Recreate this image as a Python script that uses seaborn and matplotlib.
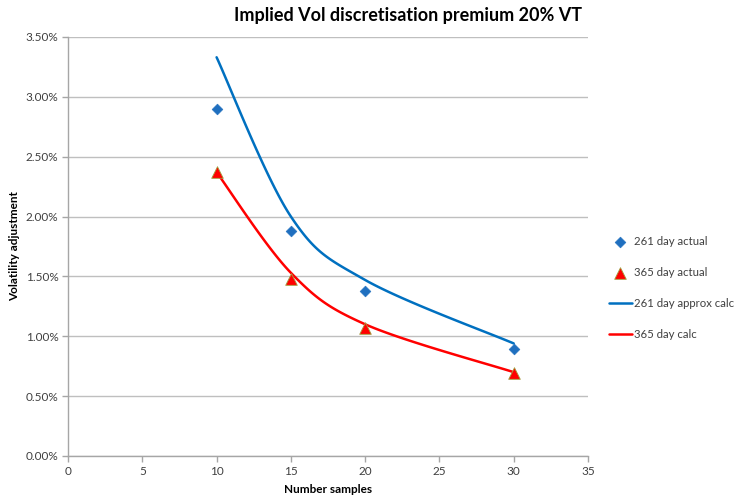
import numpy as np
import pandas as pd
import matplotlib
matplotlib.use("Agg")
import matplotlib.pyplot as plt
import seaborn as sns
from matplotlib.ticker import FuncFormatter, MultipleLocator

# ---- data ----
samples = [10, 15, 20, 30]
actual_261 = [0.0290, 0.0188, 0.0138, 0.0089]
actual_365 = [0.0237, 0.0148, 0.0107, 0.0069]
calc_261 = [0.0333, 0.0200, 0.0147, 0.0094]
calc_365 = [0.0237, 0.0153, 0.0110, 0.0070]
x_ticks = [0, 5, 10, 15, 20, 25, 30, 35]
title = "Implied Vol discretisation premium 20% VT"
labels = ["261 day actual", "365 day actual", "261 day approx calc", "365 day calc"]

sns.set_theme(style="white")
plt.rcParams['font.family'] = ['Lato', 'DejaVu Sans']


def excel_smooth(xs, ys, n=40):
    """Excel-style smoothed line (Catmull-Rom Bezier) for rendering."""
    xs = np.asarray(xs, float); ys = np.asarray(ys, float)
    P = np.column_stack([xs, ys])
    out = []
    for i in range(len(P) - 1):
        p0 = P[i - 1] if i > 0 else P[i]
        p1 = P[i]; p2 = P[i + 1]
        p3 = P[i + 2] if i + 2 < len(P) else P[i + 1]
        c1 = p1 + (p2 - p0) / 6.0
        c2 = p2 - (p3 - p1) / 6.0
        t = np.linspace(0, 1, n)[:, None]
        seg = ((1 - t) ** 3) * p1 + 3 * ((1 - t) ** 2) * t * c1 + 3 * (1 - t) * t ** 2 * c2 + t ** 3 * p2
        out.append(seg if i == 0 else seg[1:])
    return np.vstack(out)

fig = plt.figure(figsize=(7.46, 4.99), dpi=100)
ax = fig.add_axes([0.0912, 0.0862, 0.697, 0.8398])

blue_m = "#1F6FBF"
blue_l = "#0070C0"
red = "#FF0000"

s261 = excel_smooth(samples, calc_261)
s365 = excel_smooth(samples, calc_365)
d1 = pd.DataFrame({"x": s261[:, 0], "y": s261[:, 1]})
d2 = pd.DataFrame({"x": s365[:, 0], "y": s365[:, 1]})
sns.lineplot(data=d1, x="x", y="y", sort=False, color=blue_l, lw=1.8, ax=ax, label=labels[2], zorder=2)
sns.lineplot(data=d2, x="x", y="y", sort=False, color=red, lw=1.8, ax=ax, label=labels[3], zorder=2)
sns.scatterplot(x=samples, y=actual_261, marker="D", s=30, color=blue_m, edgecolor=blue_m, ax=ax, label=labels[0], zorder=3)
sns.scatterplot(x=samples, y=actual_365, marker="^", s=70, color=red, edgecolor="#A0A040", linewidth=0.6, ax=ax, label=labels[1], zorder=3)

ax.set_xlim(0, 35)
ax.set_ylim(0, 0.035)
ax.set_xticks(x_ticks)
ax.yaxis.set_major_locator(MultipleLocator(0.005))
ax.yaxis.set_major_formatter(FuncFormatter(lambda v, p: f"{v*100:.2f}%"))
ax.grid(axis="y", color="#BFBFBF", lw=1)
ax.grid(axis="x", visible=False)
for side in ["top", "right"]:
    ax.spines[side].set_visible(False)
for side in ["left", "bottom"]:
    ax.spines[side].set_color("#A6A6A6")
    ax.spines[side].set_linewidth(1)
ax.tick_params(axis="both", which="major", length=4, width=1, color="#A6A6A6",
               labelsize=8.5, labelcolor="#404040", direction="out", left=True, bottom=True, pad=3)
ax.set_xlabel("Number samples", fontsize=8.5, fontweight="bold", color="black", labelpad=5)
ax.set_ylabel("Volatility adjustment", fontsize=8.5, fontweight="bold", color="black", labelpad=4)

h, l = ax.get_legend_handles_labels()
hd = dict(zip(l, h))
leg = ax.legend([hd[x] for x in labels], labels, loc="center left", bbox_to_anchor=(1.04, 0.40),
                frameon=False, fontsize=8.2, labelspacing=1.75, handlelength=2.0, handletextpad=0.2,
                borderpad=0, borderaxespad=0)
for t in leg.get_texts():
    t.set_color("#404040")

fig.text(0.547, 0.968, title, ha="center", va="center", fontsize=13, fontweight="bold", color="black")

fig.savefig("out.png", dpi=100)
